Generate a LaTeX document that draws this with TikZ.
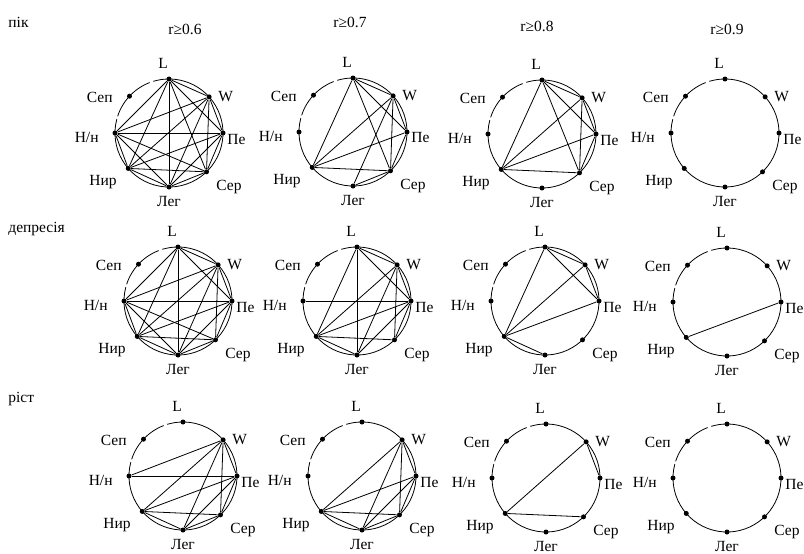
\documentclass[tikz,border=0pt]{standalone}
\usepackage{fontspec}
\setmainfont{Liberation Serif}
\usepackage{tikz}
\tikzset{> = latex, every picture/.style={line width=0.8pt}}
\tikzset{vert/.style={circle,fill,inner sep=0pt,minimum size=5pt},
         lab/.style={font=\fontsize{15.5}{17}\selectfont,inner sep=1pt}}

% one circle of eight indices, #1 = prefix of the node names
\newcommand{\corrcircle}[3]{%
\begin{scope}[shift={(#2,#3)}]
  \draw (165:54pt) arc[start angle=165, end angle=467, radius=54pt];
  \draw (111:54pt) arc[start angle=111, end angle=162, radius=54pt];
  \node[vert] (#1L) at (90:54pt) {};
  \node[vert] (#1W) at (42:54pt) {};
  \node[vert] (#1Pe) at (0:54pt) {};
  \node[vert] (#1Ser) at (-46:54pt) {};
  \node[vert] (#1Leg) at (-90:54pt) {};
  \node[vert] (#1Nir) at (-139:54pt) {};
  \node[vert] (#1Nn) at (180:54pt) {};
  \node[vert] (#1Sep) at (137:54pt) {};
  \node[lab] (#1Ltxt) at (-6,-70) {L};
  \node[lab, anchor=west] (#1Wtxt) at (48,-36) {W};
  \node[lab, anchor=west] (#1Petxt) at (57,6) {Пе};
  \node[lab, anchor=west] (#1Sertxt) at (46,54) {Сер};
  \node[lab] (#1Legtxt) at (0,68) {Лег};
  \node[lab, anchor=east] (#1Nirtxt) at (-51,49) {Нир};
  \node[lab, anchor=east] (#1Nntxt) at (-69,4) {Н/н};
  \node[lab, anchor=east] (#1Septxt) at (-55,-36) {Сеп};
\end{scope}}

\begin{document}
\begin{tikzpicture}[x=1pt, y=-1pt]
\useasboundingbox (0,0) rectangle (804,554);

\begin{scope}[every node/.style={lab}]
\node[anchor=west] (pik) at (7,22) {пік};
\node[anchor=west] (dep) at (7,229) {депресія};
\node[anchor=west] (rist) at (7,399) {ріст};
\node (thr6) at (185,29) {r≥0.6};
\node (thr7) at (350,22) {r≥0.7};
\node (thr8) at (537,26) {r≥0.8};
\node (thr9) at (727,29) {r≥0.9};
\end{scope}

\corrcircle{p6}{169}{133}
\corrcircle{p7}{353}{132}
\corrcircle{p8}{542}{134}
\corrcircle{p9}{725}{133}
\corrcircle{d6}{178}{301}
\corrcircle{d7}{357}{301}
\corrcircle{d8}{545}{301}
\corrcircle{d9}{727}{302}
\corrcircle{r6}{183}{476}
\corrcircle{r7}{362}{476}
\corrcircle{r8}{546}{478}
\corrcircle{r9}{727}{478}

\begin{scope}[every edge/.style={draw}]
    % пік
    \path (p6L) edge (p6W) edge (p6Pe) edge (p6Ser) edge (p6Leg) edge (p6Nir) edge (p6Nn);
    \path (p6W) edge (p6Pe) edge (p6Ser) edge (p6Leg) edge (p6Nir) edge (p6Nn);
    \path (p6Pe) edge (p6Ser) edge (p6Leg) edge (p6Nir) edge (p6Nn);
    \path (p6Ser) edge (p6Leg) edge (p6Nir) edge (p6Nn);
    \path (p6Leg) edge (p6Nir) edge (p6Nn);
    \path (p6Nir) edge (p6Nn);
    \path (p7L) edge (p7W) edge (p7Pe) edge (p7Ser) edge (p7Nir);
    \path (p7W) edge (p7Pe) edge (p7Ser) edge (p7Leg) edge (p7Nir);
    \path (p7Pe) edge (p7Ser) edge (p7Nir);
    \path (p7Ser) edge (p7Nir) edge (p7Leg);
    \path (p8L) edge (p8W) edge (p8Pe) edge (p8Ser) edge (p8Nir);
    \path (p8W) edge (p8Pe) edge (p8Ser) edge (p8Nir);
    \path (p8Pe) edge (p8Ser) edge (p8Nir);
    \path (p8Ser) edge (p8Nir);
    % депресія
    \path (d6L) edge (d6W) edge (d6Pe) edge (d6Leg) edge (d6Nir) edge (d6Nn);
    \path (d6W) edge (d6Pe) edge (d6Ser) edge (d6Leg) edge (d6Nir) edge (d6Nn);
    \path (d6Pe) edge (d6Ser) edge (d6Leg) edge (d6Nir) edge (d6Nn);
    \path (d6Ser) edge (d6Leg) edge (d6Nir) edge (d6Nn);
    \path (d6Leg) edge (d6Nir) edge (d6Nn);
    \path (d6Nir) edge (d6Nn);
    \path (d7L) edge (d7W) edge (d7Pe) edge (d7Leg) edge (d7Nir);
    \path (d7W) edge (d7Pe) edge (d7Ser) edge (d7Leg) edge (d7Nir);
    \path (d7Pe) edge (d7Ser) edge (d7Leg) edge (d7Nir) edge (d7Nn);
    \path (d7Nir) edge (d7Ser) edge (d7Leg);
    \path (d8L) edge (d8W) edge (d8Pe) edge (d8Nir);
    \path (d8W) edge (d8Pe) edge (d8Nir);
    \path (d8Pe) edge (d8Nir);
    \path (d8Nir) edge (d8Leg);
    \path (d9Pe) edge (d9Nir);
    % ріст
    \path (r6W) edge (r6Pe) edge (r6Ser) edge (r6Leg) edge (r6Nir) edge (r6Nn);
    \path (r6Pe) edge (r6Ser) edge (r6Leg) edge (r6Nir) edge (r6Nn);
    \path (r6Nir) edge (r6Ser) edge (r6Leg);
    \path (r6Leg) edge (r6Ser);
    \path (r7W) edge (r7Pe) edge (r7Ser) edge (r7Leg) edge (r7Nir);
    \path (r7Pe) edge (r7Ser) edge (r7Leg) edge (r7Nir);
    \path (r7Nir) edge (r7Ser) edge (r7Leg);
    \path (r7Leg) edge (r7Ser);
    \path (r8W) edge (r8Pe) edge (r8Nir);
    \path (r8Nir) edge (r8Ser);
\end{scope}
\end{tikzpicture}
\end{document}
